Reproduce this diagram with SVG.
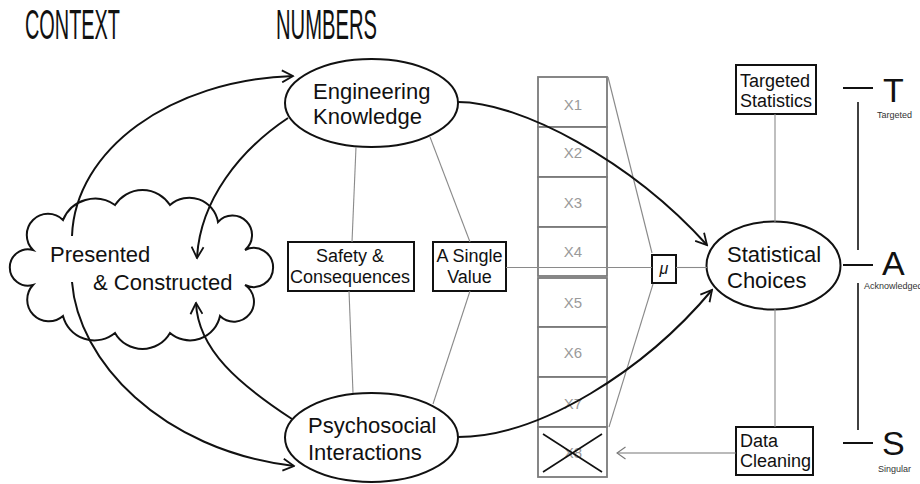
<svg xmlns="http://www.w3.org/2000/svg" width="920" height="484" viewBox="0 0 920 484">
<style>
text{font-family:"Liberation Sans",Arial,sans-serif;fill:#111}
.t22{font-size:22px}
.t18{font-size:18px}
.title{font-size:42px}
.big{font-size:34px}
.small{font-size:9px;fill:#333}
.xl{font-size:15px;fill:#9a9a9a;text-anchor:middle}
.shape{fill:#fff;stroke:#111;stroke-width:2}
.cell{fill:#fff;stroke:#7a7a7a;stroke-width:1.8}
.thin{stroke:#8a8a8a;stroke-width:1.1;fill:none}
.curve{stroke:#111;stroke-width:2;fill:none;marker-end:url(#arr)}
.mid{text-anchor:middle}
</style>
<defs>
<marker id="arr" viewBox="0 0 14 14" refX="12.5" refY="7" markerWidth="14" markerHeight="14" markerUnits="userSpaceOnUse" orient="auto">
<path d="M1.5,1 L12.5,7 L1.5,13" fill="none" stroke="#111" stroke-width="1.8"/>
</marker>
<marker id="garr" viewBox="0 0 12 14" refX="10.5" refY="7" markerWidth="12" markerHeight="14" markerUnits="userSpaceOnUse" orient="auto">
<path d="M2,1 L10.5,7 L2,13" fill="none" stroke="#777" stroke-width="1.1"/>
</marker>
</defs>

<g id="titles">
<text class="title" x="25" y="39" textLength="95" lengthAdjust="spacingAndGlyphs">CONTEXT</text>
<text class="title" x="276" y="39" textLength="101" lengthAdjust="spacingAndGlyphs">NUMBERS</text>
</g>

<g id="cloud">
<path class="shape" d="M63,220 A34.6,34.6 0 0 1 115,205 A32.7,32.7 0 0 1 170,205 A29.1,29.1 0 0 1 218,222 A19.5,19.5 0 1 1 245,250 A19.5,19.5 0 1 1 245,285 A20,20 0 1 1 220,316 A30.7,30.7 0 0 1 170,333 A31.6,31.6 0 0 1 115,333 A32.4,32.4 0 0 1 63,316 A21.6,21.6 0 0 1 33,285 A18.2,18.2 0 1 1 33,250 A21.2,21.2 0 0 1 63,220 Z"/>
<text class="t22" x="50" y="262">Presented</text>
<text class="t22" x="93" y="290">&amp; Constructed</text>
</g>

<g id="engineering">
<ellipse class="shape" cx="371.5" cy="103" rx="86.5" ry="44"/>
<text class="t22" x="313" y="99">Engineering</text>
<text class="t22" x="313" y="124">Knowledge</text>
</g>

<g id="psychosocial">
<ellipse class="shape" cx="371.5" cy="437.5" rx="86.5" ry="44.5"/>
<text class="t22" x="308" y="433">Psychosocial</text>
<text class="t22" x="308" y="460">Interactions</text>
</g>

<g id="safety">
<rect class="shape" x="288" y="242" width="126" height="49"/>
<text class="t18 mid" x="350" y="262">Safety &amp;</text>
<text class="t18 mid" x="350" y="283">Consequences</text>
</g>

<g id="single-value">
<rect class="shape" x="433" y="242" width="73" height="49"/>
<text class="t18 mid" x="469.5" y="262">A Single</text>
<text class="t18 mid" x="469.5" y="283">Value</text>
</g>

<g id="numbers">
<rect class="cell" x="538" y="77" width="69" height="50"/>
<rect class="cell" x="538" y="127" width="69" height="50"/>
<rect class="cell" x="538" y="177" width="69" height="50"/>
<rect class="cell" x="538" y="227" width="69" height="49"/>
<rect class="cell" x="538" y="278" width="69" height="49"/>
<rect class="cell" x="538" y="327" width="69" height="50"/>
<rect class="cell" x="538" y="377" width="69" height="50"/>
<rect class="cell" x="538" y="427" width="69" height="50"/>
<text class="xl" x="573" y="110">X1</text>
<text class="xl" x="573" y="158">X2</text>
<text class="xl" x="573" y="208">X3</text>
<text class="xl" x="573" y="257">X4</text>
<text class="xl" x="573" y="308">X5</text>
<text class="xl" x="573" y="358">X6</text>
<text class="xl" x="573" y="409">X7</text>
<text class="xl" x="573" y="458">X8</text>
<line x1="543" y1="434" x2="602" y2="472" stroke="#111" stroke-width="1.6"/>
<line x1="543" y1="472" x2="602" y2="434" stroke="#111" stroke-width="1.6"/>
</g>

<g id="mu">
<rect class="shape" x="652" y="255" width="24" height="28" stroke-width="1.6"/>
<text x="664" y="274" class="mid" style="font-size:16px;font-style:italic">μ</text>
</g>

<g id="statistical-choices">
<ellipse class="shape" cx="773.5" cy="265.5" rx="67" ry="44"/>
<text class="t22" x="727" y="262">Statistical</text>
<text class="t22" x="727" y="288">Choices</text>
</g>

<g id="targeted-statistics">
<rect class="shape" x="736" y="65" width="80" height="49"/>
<text class="t18" x="740" y="87">Targeted</text>
<text class="t18" x="740" y="107">Statistics</text>
</g>

<g id="data-cleaning">
<rect class="shape" x="736" y="427" width="77" height="48"/>
<text class="t18" x="740" y="447">Data</text>
<text class="t18" x="740" y="467">Cleaning</text>
</g>

<g id="tas">
<line x1="843" y1="88" x2="873" y2="88" stroke="#111" stroke-width="2"/>
<line x1="843" y1="265" x2="873" y2="265" stroke="#111" stroke-width="2"/>
<line x1="843" y1="443" x2="873" y2="443" stroke="#111" stroke-width="2"/>
<line x1="858" y1="102" x2="858" y2="250" stroke="#111" stroke-width="1.6"/>
<line x1="858" y1="283" x2="858" y2="430" stroke="#111" stroke-width="1.6"/>
<text class="big" x="883" y="102">T</text>
<text class="big" x="882" y="275">A</text>
<text class="big" x="882" y="455">S</text>
<text class="small" x="877" y="118">Targeted</text>
<text class="small" x="864" y="289">Acknowledged</text>
<text class="small" x="878" y="472">Singular</text>
</g>

<g id="connectors">
<line class="thin" x1="356" y1="147" x2="352" y2="242"/>
<line class="thin" x1="349" y1="291" x2="353" y2="393"/>
<line class="thin" x1="430" y1="137" x2="470" y2="242"/>
<line class="thin" x1="470" y1="291" x2="433" y2="404"/>
<line class="thin" x1="506" y1="267.5" x2="652" y2="267.5"/>
<line class="thin" x1="676" y1="267.5" x2="707" y2="267.5"/>
<line class="thin" x1="608" y1="77" x2="652" y2="253"/>
<line class="thin" x1="653" y1="284" x2="609" y2="427"/>
<line class="thin" x1="775" y1="114" x2="775" y2="222"/>
<line class="thin" x1="775" y1="309" x2="775" y2="427"/>
<line x1="736" y1="453" x2="617" y2="453" stroke="#777" stroke-width="1.1" marker-end="url(#garr)"/>
<path class="curve" d="M72,236 C75,150 170,80 293,76"/>
<path class="curve" d="M288,118 C240,150 200,200 197,258"/>
<path class="curve" d="M292,419 C240,385 198,350 196,303"/>
<path class="curve" d="M72,282 C78,360 160,450 294,466"/>
<path class="curve" d="M458,102 C520,102 630,160 707,245"/>
<path class="curve" d="M458,437 C540,437 645,370 712,290"/>
</g>
</svg>
